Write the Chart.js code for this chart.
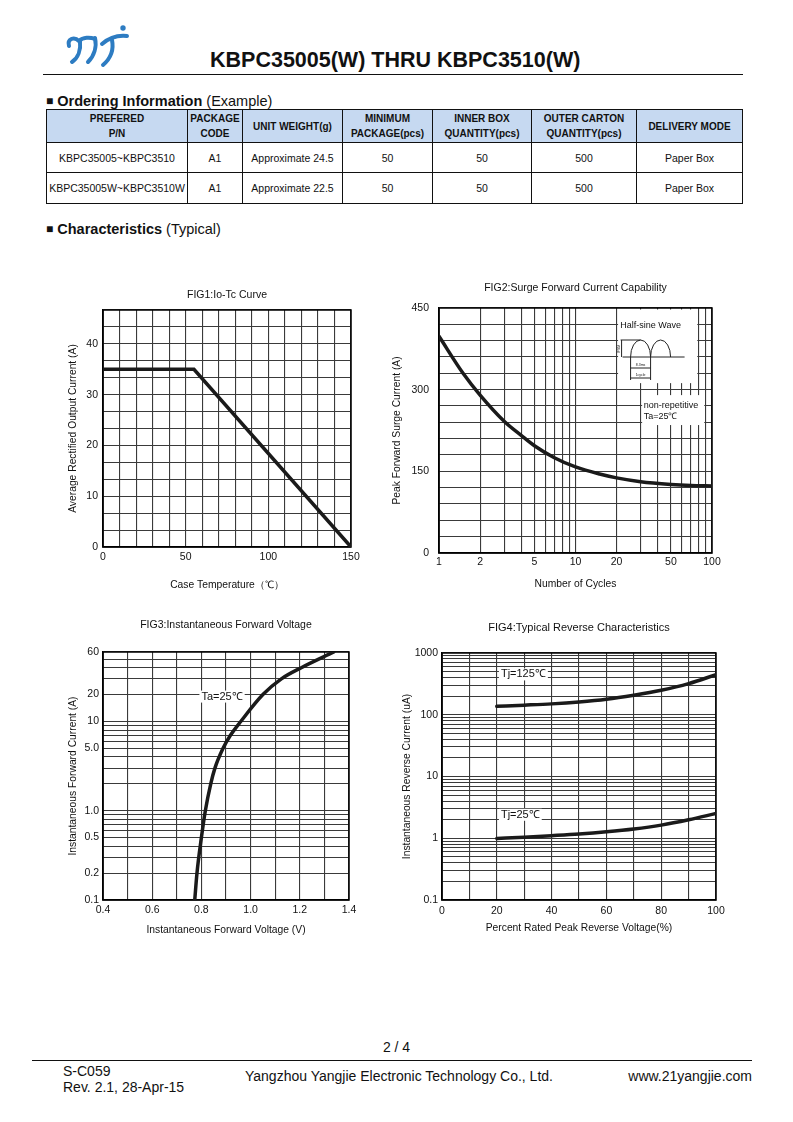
<!DOCTYPE html>
<html>
<head>
<meta charset="utf-8">
<script src="https://cdn.jsdelivr.net/npm/chart.js@4.4.0/dist/chart.umd.min.js"></script>
<style>
body{margin:0;background:#fff;font-family:'Liberation Sans',Arial,sans-serif;color:#111}
#page{position:relative;width:793px;height:1122px;overflow:hidden}
.t{position:absolute;white-space:nowrap;line-height:1}
.sq{font-size:12px;position:relative;top:-1px}
.rule{position:absolute;height:1px;background:#111}
canvas{position:absolute}
table{position:absolute;left:46px;top:109px;width:697px;border-collapse:collapse;table-layout:fixed}
td,th{border:1px solid #111;text-align:center;padding:0;font-size:10.5px;color:#111;white-space:nowrap}
th{background:#c6d9f1;font-weight:bold;font-size:10px;line-height:15px}
</style>
</head>
<body>
<div id="page">
  <svg width="70" height="52" viewBox="0 0 70 52" style="position:absolute;left:62px;top:17px">
    <g fill="none" stroke="#2d7cc2" stroke-width="4" stroke-linecap="round">
      <path d="M7 29 C5 22 12 19 17 24 C21 20 28 20 33 22"/>
      <path d="M18 24 C19 33 16 41 10 45"/>
      <path d="M33 21 C35 30 32 39 26 45"/>
      <path d="M40 27 C48 20 56 18 65 19"/>
      <path d="M50 23 C52 33 48 42 41 48"/>
    </g>
    <circle cx="61" cy="11" r="2.7" fill="#2d7cc2"/>
  </svg>
  <div class="t" style="left:210px;top:50px;font-size:21.5px;font-weight:bold">KBPC35005(W) THRU KBPC3510(W)</div>
  <div class="rule" style="left:43px;top:74px;width:700px"></div>

  <div class="t" style="left:46px;top:94px;font-size:14.5px"><span class="sq">■</span> <b>Ordering Information</b> (Example)</div>
  <table>
    <colgroup><col style="width:141px"><col style="width:55px"><col style="width:100px"><col style="width:90px"><col style="width:99px"><col style="width:105px"><col style="width:106px"></colgroup>
    <tr style="height:33px"><th>PREFERED<br>P/N</th><th>PACKAGE<br>CODE</th><th>UNIT WEIGHT(g)</th><th>MINIMUM<br>PACKAGE(pcs)</th><th>INNER BOX<br>QUANTITY(pcs)</th><th>OUTER CARTON<br>QUANTITY(pcs)</th><th>DELIVERY MODE</th></tr>
    <tr style="height:30px"><td>KBPC35005~KBPC3510</td><td>A1</td><td>Approximate 24.5</td><td>50</td><td>50</td><td>500</td><td>Paper Box</td></tr>
    <tr style="height:31px"><td>KBPC35005W~KBPC3510W</td><td>A1</td><td>Approximate 22.5</td><td>50</td><td>50</td><td>500</td><td>Paper Box</td></tr>
  </table>

  <div class="t" style="left:46px;top:222px;font-size:14.5px"><span class="sq">■</span> <b>Characteristics</b> (Typical)</div>

  <div class="t" style="left:0;width:793px;text-align:center;top:1040px;font-size:14px">2 / 4</div>
  <div class="rule" style="left:32px;top:1060px;width:720px"></div>
  <div class="t" style="left:63px;top:1064px;font-size:14px">S-C059</div>
  <div class="t" style="left:63px;top:1080px;font-size:14px">Rev. 2.1, 28-Apr-15</div>
  <div class="t" style="left:245px;top:1069px;font-size:14px">Yangzhou Yangjie Electronic Technology Co., Ltd.</div>
  <div class="t" style="right:41px;top:1069px;font-size:14px">www.21yangjie.com</div>
</div>

<script>
// FIG1: Io-Tc curve
const fig1Temp = [0, 55, 150];
const fig1Current = [35, 35, 0];
const fig1XLabels = [0, 50, 100, 150];
const fig1YLabels = [0, 10, 20, 30, 40];

// FIG2: surge forward current
const fig2Cycles = [1, 1.5, 2, 3, 4, 5, 7, 10, 15, 20, 30, 50, 70, 100];
const fig2Surge = [398, 330, 290, 242, 216, 197, 175, 158, 145, 138, 131, 126, 124, 123];
const fig2XLabels = [1, 2, 5, 10, 20, 50, 100];
const fig2YLabels = [0, 150, 300, 450];

// FIG3: forward voltage
const fig3Volt = [0.773, 0.782, 0.800, 0.816, 0.838, 0.855, 0.888, 0.918, 0.960, 1.05, 1.125, 1.206, 1.338];
const fig3Amp = [0.1, 0.2, 0.5, 1, 2, 3, 5, 7, 10, 20, 30, 40, 60];
const fig3XLabels = [0.4, 0.6, 0.8, 1.0, 1.2, 1.4];
const fig3XText = ['0.4', '0.6', '0.8', '1.0', '1.2', '1.4'];
const fig3YLabels = [0.1, 0.2, 0.5, 1, 5, 10, 20, 60];
const fig3YText = ['0.1', '0.2', '0.5', '1.0', '5.0', '10', '20', '60'];

// FIG4: reverse characteristics
const fig4Percent = [20, 30, 40, 50, 60, 70, 80, 90, 100];
const fig4Tj125 = [137, 143, 150, 161, 178, 207, 249, 319, 446];
const fig4Tj25 = [0.99, 1.04, 1.10, 1.17, 1.27, 1.41, 1.63, 1.99, 2.52];
const fig4XLabels = [0, 20, 40, 60, 80, 100];
const fig4YLabels = [0.1, 1, 10, 100, 1000];

const FONT = "'Liberation Sans', Arial, sans-serif";
Chart.defaults.font.family = FONT;
Chart.defaults.color = '#111';

const steps = (min, max, step) => {
	let out = [];
	for (let v = min; v <= max + step / 1000; v += step) out.push(Number(v.toFixed(6)));
	return out;
};
const logGrid = (min, max) => {
	let out = [];
	for (let e = -3; e <= 4; e++) {
		for (let m = 1; m <= 9; m++) {
			let v = Number((m * Math.pow(10, e)).toPrecision(6));
			if (v >= min - 1e-9 && v <= max + 1e-9) out.push(v);
		}
	}
	return out;
};
const same = (a, b) => Math.abs(a - b) < 1e-6 * Math.max(1, Math.abs(b));
const pts = (xs, ys) => xs.map((x, i) => ({ x: x, y: ys[i] }));

// text with optional white background, positioned in data units
const drawNote = (ctx, px, py, n) => {
	ctx.font = (n.size || 10.5) + 'px ' + FONT;
	const w = ctx.measureText(n.text).width;
	if (n.bg) {
		ctx.fillStyle = '#fff';
		ctx.fillRect(px - 2, py - 6, w + 4, 12);
	}
	ctx.fillStyle = '#111';
	ctx.textAlign = 'left';
	ctx.textBaseline = 'middle';
	ctx.fillText(n.text, px, py);
};

const drawWave = (ctx, ax, ay) => {
	ctx.strokeStyle = '#222';
	ctx.lineWidth = 1;
	ctx.font = '9px ' + FONT;
	ctx.fillStyle = '#111';
	ctx.textAlign = 'center';
	ctx.textBaseline = 'middle';
	ctx.fillText('Half-sine Wave', ax + 34, ay + 18);
	ctx.beginPath();
	ctx.moveTo(ax + 6, ay + 49); ctx.lineTo(ax + 68, ay + 49);
	ctx.moveTo(ax + 4, ay + 32); ctx.lineTo(ax + 24, ay + 32);
	ctx.moveTo(ax + 5, ay + 32); ctx.lineTo(ax + 5, ay + 49);
	ctx.moveTo(ax + 14, ay + 49); ctx.lineTo(ax + 14, ay + 72);
	ctx.moveTo(ax + 34, ay + 49); ctx.lineTo(ax + 34, ay + 72);
	ctx.moveTo(ax + 14, ay + 60); ctx.lineTo(ax + 34, ay + 60);
	ctx.moveTo(ax + 14, ay + 70); ctx.lineTo(ax + 34, ay + 70);
	ctx.stroke();
	ctx.beginPath();
	ctx.ellipse(ax + 24, ay + 49, 10, 17, 0, Math.PI, 2 * Math.PI);
	ctx.stroke();
	ctx.beginPath();
	ctx.ellipse(ax + 44, ay + 49, 10, 17, 0, Math.PI, 2 * Math.PI);
	ctx.stroke();
	ctx.font = '3.5px ' + FONT;
	ctx.fillText('8.3ms', ax + 24, ay + 57);
	ctx.fillText('1cycle', ax + 24, ay + 67);
	ctx.save();
	ctx.translate(ax + 2, ay + 41);
	ctx.rotate(-Math.PI / 2);
	ctx.fillText('IFSM', 0, 0);
	ctx.restore();
};

const decor = {
	id: 'decor',
	beforeDatasetsDraw(chart, args, opts) {
		const { ctx, chartArea: a, scales: { x, y } } = chart;
		ctx.save();
		for (const b of opts.boxes || []) {
			const l = x.getPixelForValue(b.x0) + 1.5;
			const r = x.getPixelForValue(b.x1) - 1.5;
			const t = b.y0 === null ? a.top + 1.5 : y.getPixelForValue(b.y0);
			const bt = y.getPixelForValue(b.y1);
			ctx.fillStyle = '#fff';
			ctx.fillRect(l, t, r - l, bt - t);
		}
		if (opts.wave) drawWave(ctx, x.getPixelForValue(opts.wave.x), a.top);
		for (const n of opts.notes || []) {
			drawNote(ctx, x.getPixelForValue(n.x) + (n.dx || 0), y.getPixelForValue(n.y), n);
		}
		ctx.strokeStyle = '#000';
		ctx.lineWidth = 1.5;
		ctx.strokeRect(a.left, a.top, a.right - a.left, a.bottom - a.top);
		ctx.restore();
	}
};
Chart.register(decor);

const axis = (type, min, max, grid, labels, texts, pad, fit, title) => ({
	type: type,
	min: min,
	max: max,
	afterBuildTicks: (s) => { s.ticks = grid.map((v) => ({ value: v })); },
	afterFit: fit,
	grid: { color: '#3a3a3a', lineWidth: 1.1, drawTicks: false },
	border: { color: '#000', width: 1.5 },
	ticks: {
		autoSkip: false,
		maxRotation: 0,
		padding: pad,
		font: { size: 10.5, lineHeight: '12px' },
		callback: (v) => {
			const i = labels.findIndex((l) => same(v, l));
			return i < 0 ? '' : (texts ? texts[i] : String(labels[i]));
		}
	},
	title: { display: true, text: title, padding: 0, font: { size: 10.3, lineHeight: '12px' } }
});

const makeChart = (spec) => {
	const [l, t, r, b] = spec.area;
	const yW = l - spec.yTitleX + 6;
	const xH = spec.xTitleY - b + 6;
	const top = spec.titleY - 6;
	const left = l - yW;
	const canvas = document.createElement('canvas');
	canvas.width = r + 16 - left;
	canvas.height = b + xH + 2 - top;
	canvas.style.left = left + 'px';
	canvas.style.top = top + 'px';
	document.querySelector('#page').appendChild(canvas);
	const xa = spec.x, ya = spec.y;
	return new Chart(canvas, {
		type: 'line',
		data: { datasets: spec.datasets },
		options: {
			responsive: false,
			animation: false,
			events: [],
			layout: { padding: { left: 0, top: 0, right: 16, bottom: 2 } },
			scales: {
				x: axis(xa.type, xa.min, xa.max, xa.grid, xa.labels, xa.texts, spec.xPad, (s) => { s.height = xH; }, xa.title),
				y: axis(ya.type, ya.min, ya.max, ya.grid, ya.labels, ya.texts, spec.yPad, (s) => { s.width = yW; }, ya.title)
			},
			plugins: {
				legend: { display: false },
				tooltip: { enabled: false },
				title: {
					display: true,
					text: spec.title,
					fullSize: false,
					padding: { top: 0, bottom: t - spec.titleY - 6 },
					font: { size: spec.titleSize || 10.5, weight: 'normal', lineHeight: '12px' },
					color: '#111'
				},
				decor: spec.decor || {}
			}
		}
	});
};

const curve = (data, smooth) => ({
	data: data,
	borderColor: '#1a1a1a',
	borderWidth: 3.5,
	pointRadius: 0,
	fill: false,
	tension: 0,
	cubicInterpolationMode: smooth ? 'monotone' : 'default',
	borderCapStyle: 'round'
});

makeChart({
	area: [103, 310, 351, 547], titleY: 295, yTitleX: 73, xTitleY: 585, xPad: 4, yPad: 5,
	title: 'FIG1:Io-Tc Curve',
	x: { type: 'linear', min: 0, max: 150, grid: steps(0, 150, 10), labels: fig1XLabels, title: 'Case Temperature（℃）' },
	y: { type: 'linear', min: 0, max: 140 / 3, grid: steps(0, 140 / 3, 10 / 3), labels: fig1YLabels, title: 'Average Rectified Output Current (A)' },
	datasets: [curve(pts(fig1Temp, fig1Current), false)]
});

makeChart({
	area: [439, 308, 712, 553], titleY: 288, yTitleX: 397, xTitleY: 584, xPad: 3, yPad: 10,
	title: 'FIG2:Surge Forward Current Capability',
	x: { type: 'logarithmic', min: 1, max: 100, grid: logGrid(1, 100), labels: fig2XLabels, title: 'Number of Cycles' },
	y: { type: 'linear', min: 0, max: 450, grid: steps(0, 450, 30), labels: fig2YLabels, title: 'Peak Forward Surge Current (A)' },
	datasets: [curve(pts(fig2Cycles, fig2Surge), true)],
	decor: {
		boxes: [{ x0: 20, x1: 80, y0: null, y1: 312 }, { x0: 30, x1: 90, y0: 290, y1: 235 }],
		wave: { x: 20 },
		notes: [
			{ x: 30, dx: 3, y: 271, text: 'non-repetitive', size: 9 },
			{ x: 30, dx: 3, y: 251, text: 'Ta=25℃', size: 9 }
		]
	}
});

makeChart({
	area: [103, 652, 349, 900], titleY: 625, yTitleX: 73, xTitleY: 930, xPad: 4, yPad: 4,
	title: 'FIG3:Instantaneous Forward Voltage',
	x: { type: 'linear', min: 0.4, max: 1.4, grid: steps(0.4, 1.4, 0.1), labels: fig3XLabels, texts: fig3XText, title: 'Instantaneous Forward Voltage (V)' },
	y: { type: 'logarithmic', min: 0.1, max: 60, grid: logGrid(0.1, 60), labels: fig3YLabels, texts: fig3YText, title: 'Instantaneous Forward Current (A)' },
	datasets: [curve(pts(fig3Volt, fig3Amp), true)],
	decor: { notes: [{ x: 0.8, y: 19, text: 'Ta=25℃', size: 11, bg: true }] }
});

makeChart({
	area: [442, 653, 716, 900], titleY: 628, yTitleX: 407, xTitleY: 928, xPad: 5, yPad: 4, titleSize: 11,
	title: 'FIG4:Typical Reverse Characteristics',
	x: { type: 'linear', min: 0, max: 100, grid: steps(0, 100, 10), labels: fig4XLabels, title: 'Percent Rated Peak Reverse Voltage(%)' },
	y: { type: 'logarithmic', min: 0.1, max: 1000, grid: logGrid(0.1, 1000), labels: fig4YLabels, title: 'Instantaneous Reverse Current (uA)' },
	datasets: [curve(pts(fig4Percent, fig4Tj125), true), curve(pts(fig4Percent, fig4Tj25), true)],
	decor: {
		notes: [
			{ x: 21.5, y: 450, text: 'Tj=125℃', size: 11, bg: true },
			{ x: 21.5, y: 2.4, text: 'Tj=25℃', size: 11, bg: true }
		]
	}
});
</script>
</body>
</html>
